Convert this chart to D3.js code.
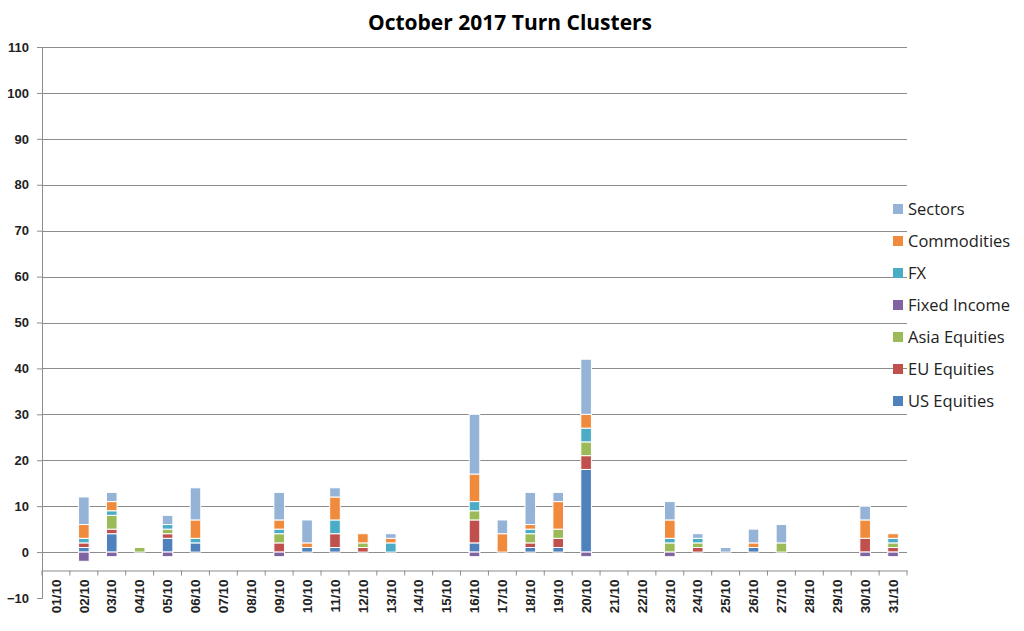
<!DOCTYPE html>
<html>
<head>
<meta charset="utf-8">
<script src="https://cdn.jsdelivr.net/npm/d3@7"></script>
<style>
  html, body { margin: 0; padding: 0; background: #fff; }
  svg { display: block; }
</style>
</head>
<body>
<svg id="chart" width="1024" height="631"></svg>
<script>
// ---- Data ----
const days = ["01/10","02/10","03/10","04/10","05/10","06/10","07/10","08/10","09/10","10/10",
              "11/10","12/10","13/10","14/10","15/10","16/10","17/10","18/10","19/10","20/10",
              "21/10","22/10","23/10","24/10","25/10","26/10","27/10","28/10","29/10","30/10","31/10"];
const seriesNames = ["US Equities","EU Equities","Asia Equities","Fixed Income","FX","Commodities","Sectors"];
const usEquities   = [0,1,4,0,3,2,0,0,0,1, 1,0,0,0,0,2,0,1,1,18, 0,0,0,0,0,1,0,0,0,0,0];
const euEquities   = [0,1,1,0,1,0,0,0,2,0, 3,1,0,0,0,5,0,1,2,3,  0,0,0,1,0,0,0,0,0,3,1];
const asiaEquities = [0,0,3,1,1,0,0,0,2,0, 0,1,0,0,0,2,0,2,2,3,  0,0,2,1,0,0,2,0,0,0,1];
const fixedIncome  = [0,-2,-1,0,-1,0,0,0,-1,0, 0,0,0,0,0,-1,0,0,0,-1, 0,0,-1,0,0,0,0,0,0,-1,-1];
const fx           = [0,1,1,0,1,1,0,0,1,0, 3,0,2,0,0,2,0,1,0,3,  0,0,1,1,0,0,0,0,0,0,1];
const commodities  = [0,3,2,0,0,4,0,0,2,1, 5,2,1,0,0,6,4,1,6,3,  0,0,4,0,0,1,0,0,0,4,1];
const sectors      = [0,6,2,0,2,7,0,0,6,5, 2,0,1,0,0,13,3,7,2,12, 0,0,4,1,1,3,4,0,0,3,0];
const yTicks = [-10,0,10,20,30,40,50,60,70,80,90,100,110];
const colors = ["#4F81BD","#C0504D","#9BBB59","#8064A2","#4BACC6","#F08A3C","#95B3D7"];
const legendOrder = ["Sectors","Commodities","FX","Fixed Income","Asia Equities","EU Equities","US Equities"];

// ---- Build table ----
const valueArrays = [usEquities, euEquities, asiaEquities, fixedIncome, fx, commodities, sectors];
const table = days.map((d, i) => {
  const row = { day: d };
  seriesNames.forEach((s, k) => row[s] = valueArrays[k][i]);
  return row;
});

const svg = d3.select("#chart");
const plotLeft = 42, plotRight = 907, plotTop = 47, plotBottom = 598;

const x = d3.scaleBand().domain(days).range([plotLeft, plotRight]).paddingInner(0.62).paddingOuter(0.31);
const y = d3.scaleLinear().domain([-10, 110]).range([plotBottom, plotTop]);
const color = d3.scaleOrdinal().domain(seriesNames).range(colors);

// gridlines
svg.append("g").selectAll("line")
  .data(yTicks.filter(t => t > -10))
  .join("line")
  .attr("x1", plotLeft).attr("x2", plotRight)
  .attr("y1", d => Math.round(y(d)) + 0.5).attr("y2", d => Math.round(y(d)) + 0.5)
  .attr("stroke", "#8c8c8c").attr("stroke-width", 1);

// y axis
const yAxis = d3.axisLeft(y).tickValues(yTicks).tickSize(5).tickPadding(8).tickFormat(d3.format("d"));
const gy = svg.append("g").attr("transform", `translate(${plotLeft},0)`).call(yAxis);
gy.select(".domain").attr("stroke", "#8c8c8c");
gy.selectAll(".tick line").attr("stroke", "#8c8c8c");
gy.selectAll("text").attr("font-family", "Liberation Sans, Arial, sans-serif")
  .attr("font-size", 13).attr("font-weight", "bold").attr("fill", "#222");

// stacked bars
const stack = d3.stack().keys(seriesNames).offset(d3.stackOffsetDiverging);
const stacked = stack(table);
svg.append("g").selectAll("g")
  .data(stacked)
  .join("g")
  .attr("fill", d => color(d.key))
  .selectAll("rect")
  .data(d => d.filter(p => p[1] !== p[0]))
  .join("rect")
  .attr("x", d => x(d.data.day))
  .attr("width", x.bandwidth())
  .attr("y", d => y(Math.max(d[0], d[1])))
  .attr("height", d => Math.abs(y(d[0]) - y(d[1])))
  .attr("stroke", "#fff").attr("stroke-width", 1);

// category axis (placed low)
const axisY = Math.round(y(-4)) + 0.5;
const xAxis = d3.axisBottom(x).tickSize(0).tickPadding(0);
const gx = svg.append("g").attr("transform", `translate(0,${axisY})`).call(xAxis);
gx.select(".domain").attr("stroke", "#8c8c8c");
gx.selectAll(".tick line").remove();
gx.selectAll("text")
  .attr("font-family", "Liberation Sans, Arial, sans-serif")
  .attr("font-size", 13.5).attr("font-weight", "bold").attr("fill", "#222")
  .attr("transform", "rotate(-90)")
  .attr("text-anchor", "end")
  .attr("x", -9).attr("y", 0).attr("dy", "0.35em");
// tick marks between categories
const step = x.step();
svg.append("g").selectAll("line")
  .data(d3.range(days.length + 1))
  .join("line")
  .attr("x1", i => plotLeft + i * step).attr("x2", i => plotLeft + i * step)
  .attr("y1", axisY).attr("y2", axisY + 5)
  .attr("stroke", "#8c8c8c");

// title
svg.append("text")
  .attr("x", 510).attr("y", 30)
  .attr("text-anchor", "middle")
  .attr("font-family", "Open Sans, sans-serif")
  .attr("font-weight", "bold").attr("font-size", 21)
  .attr("fill", "#000")
  .text("October 2017 Turn Clusters");

// legend
const lg = svg.append("g").selectAll("g")
  .data(legendOrder)
  .join("g")
  .attr("transform", (d, i) => `translate(893,${209 + i * 32})`);
lg.append("rect").attr("x", 0).attr("y", -5).attr("width", 10).attr("height", 10)
  .attr("fill", d => color(d));
lg.append("text").attr("x", 15).attr("y", 0).attr("dy", "0.35em")
  .attr("font-family", "Open Sans, sans-serif").attr("font-size", 16.5)
  .attr("fill", "#222")
  .text(d => d);
</script>
</body>
</html>
